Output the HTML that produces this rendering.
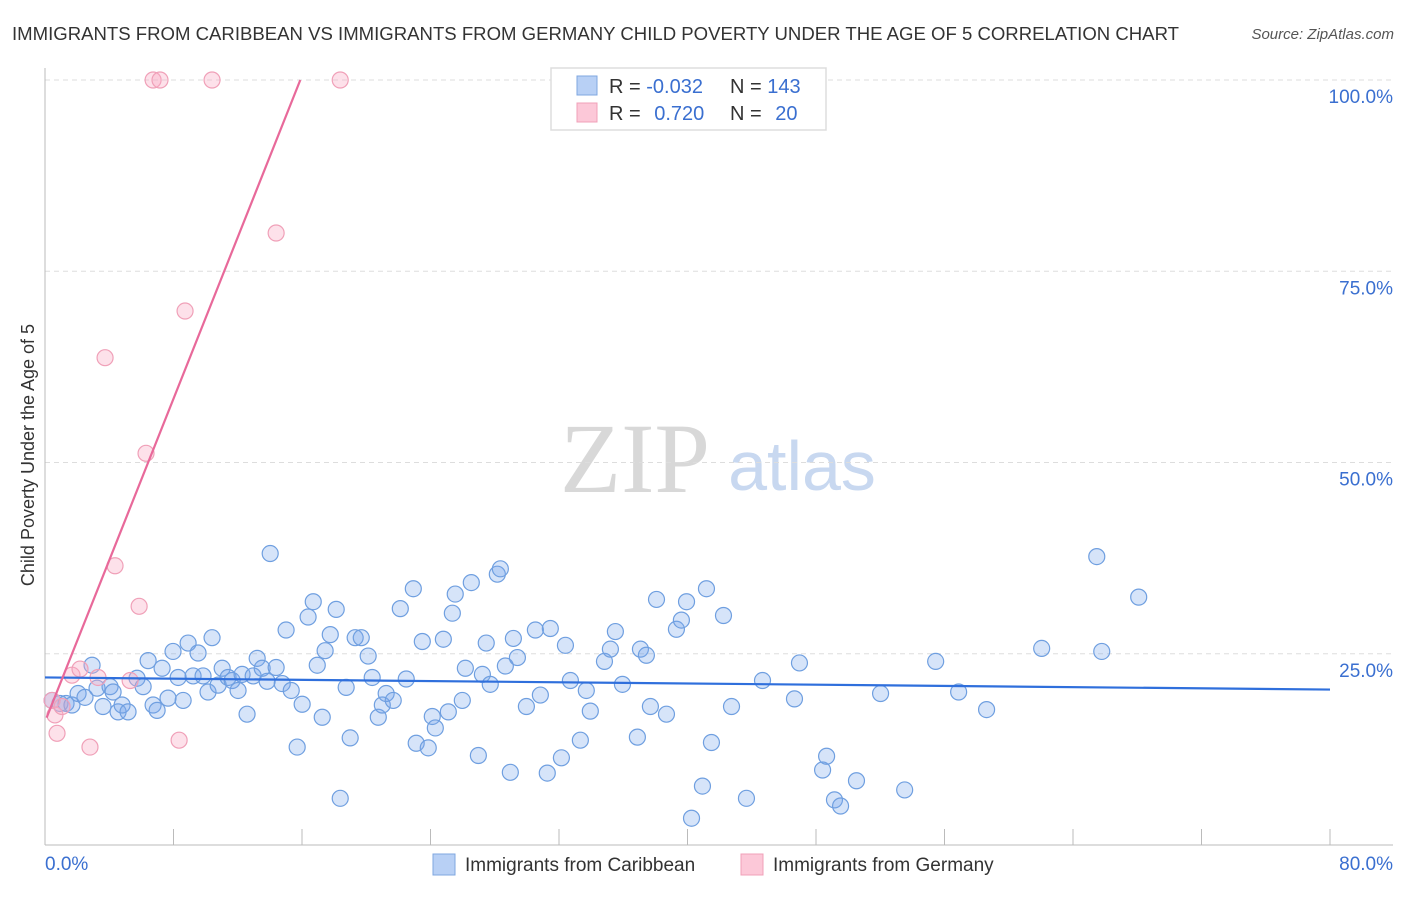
<!DOCTYPE html>
<html><head><meta charset="utf-8"><style>
body{margin:0;background:#fff;font-family:"Liberation Sans",sans-serif;}
svg text{font-family:"Liberation Sans",sans-serif;}
</style></head><body>
<svg id="chart" width="1406" height="892" xmlns="http://www.w3.org/2000/svg">
<text x="12" y="40" font-size="18" fill="#333" textLength="1167" lengthAdjust="spacingAndGlyphs">IMMIGRANTS FROM CARIBBEAN VS IMMIGRANTS FROM GERMANY CHILD POVERTY UNDER THE AGE OF 5 CORRELATION CHART</text>
<text x="1394" y="39" font-size="15" fill="#555" text-anchor="end" font-style="italic">Source: ZipAtlas.com</text>
<text x="0" y="0" font-size="18" fill="#333" text-anchor="middle" transform="translate(34,455) rotate(-90)">Child Poverty Under the Age of 5</text>
<g>
<text x="635" y="492" font-size="100" fill="#d8d8d8" text-anchor="middle" style="font-family:'Liberation Serif',serif">ZIP</text>
<text x="802" y="490" font-size="70" fill="#c8d8f0" text-anchor="middle">atlas</text>
</g>
<g id="grid"></g>
<g id="axes"></g>
<g id="marks"></g>
<g>
<rect x="551" y="68" width="275" height="62" fill="#fff" stroke="#ddd" stroke-width="1.5"/>
<rect x="577" y="76" width="20" height="19" fill="#b8d0f5" stroke="#7fa7e0"/>
<rect x="577" y="103" width="20" height="19" fill="#fcc8d8" stroke="#f0a0b8"/>
<text x="609" y="93" font-size="20" fill="#333">R = <tspan fill="#3a6fd0">-0.032</tspan></text>
<text x="730" y="93" font-size="20" fill="#333">N = <tspan fill="#3a6fd0">143</tspan></text>
<text x="609" y="120" font-size="20" fill="#333">R = <tspan fill="#3a6fd0" dx="8">0.720</tspan></text>
<text x="730" y="120" font-size="20" fill="#333">N = <tspan fill="#3a6fd0" dx="8">20</tspan></text>
</g>
<g>
<rect x="433" y="854" width="22" height="21" fill="#b8d0f5" stroke="#7fa7e0"/>
<text x="465" y="871" font-size="19" fill="#333">Immigrants from Caribbean</text>
<rect x="741" y="854" width="22" height="21" fill="#fcc8d8" stroke="#f0a0b8"/>
<text x="773" y="871" font-size="19" fill="#333">Immigrants from Germany</text>
</g>
</svg>
<script>
const blueX=[0.44,0.93,1.31,1.68,2.06,2.49,2.93,3.24,3.61,4.05,4.24,4.55,4.80,5.17,5.73,6.11,6.42,6.73,6.98,7.29,7.66,7.97,8.29,8.60,8.91,9.22,9.53,9.84,10.15,10.40,10.78,11.03,11.40,11.65,12.02,12.27,12.58,12.96,13.21,13.52,13.83,14.02,14.39,14.77,15.01,15.33,15.70,16.01,16.38,16.70,16.95,17.26,17.44,17.76,18.13,18.38,18.75,19.00,19.31,19.69,20.12,20.37,20.75,21.00,21.24,21.68,22.12,22.49,22.93,23.11,23.49,23.86,24.11,24.30,24.80,25.11,25.36,25.54,25.98,26.17,26.54,26.98,27.23,27.47,27.72,28.16,28.35,28.66,28.97,29.16,29.41,29.97,30.53,30.84,31.27,31.46,32.15,32.40,32.71,33.33,33.70,33.95,34.83,35.20,35.51,35.95,36.88,37.07,37.44,37.69,38.07,38.69,39.31,39.62,39.94,40.25,40.93,41.18,41.49,42.24,42.74,43.67,44.67,46.66,46.97,48.41,48.66,49.15,49.53,50.52,52.02,53.52,55.45,56.88,58.62,62.05,65.48,65.79,68.09];
const blueY=[18.9,18.5,18.5,18.3,19.8,19.3,23.5,20.5,18.1,20.7,20.0,17.4,18.3,17.4,21.8,20.7,24.1,18.3,17.6,23.1,19.2,25.3,21.9,18.9,26.4,22.1,25.1,22.1,20.0,27.1,20.9,23.1,21.9,21.5,20.2,22.3,17.1,22.1,24.4,23.1,21.4,38.1,23.2,21.1,28.1,20.2,12.8,18.4,29.8,31.8,23.5,16.7,25.4,27.5,30.8,6.1,20.6,14.0,27.1,27.1,24.7,21.9,16.7,18.3,19.8,18.9,30.9,21.7,33.5,13.3,26.6,12.7,16.8,15.3,26.9,17.4,30.3,32.8,18.9,23.1,34.3,11.7,22.3,26.4,21.0,35.4,36.1,23.4,9.5,27.0,24.5,18.1,28.1,19.6,9.4,28.3,11.4,26.1,21.5,13.7,20.2,17.5,24.0,25.6,27.9,21.0,14.1,25.6,24.8,18.1,32.1,17.1,28.2,29.4,31.8,3.5,7.7,33.5,13.4,30.0,18.1,6.1,21.5,19.1,23.8,9.8,11.6,5.9,5.1,8.4,19.8,7.2,24.0,20.0,17.7,25.7,37.7,25.3,32.4];
const pinkX=[0.44,0.62,0.75,1.06,1.68,2.18,2.80,3.30,3.74,4.36,5.30,5.86,6.29,6.73,7.16,8.35,8.72,10.40,14.39,18.38];
const pinkY=[18.9,17.0,14.6,18.1,22.2,23.0,12.8,21.9,63.7,36.5,21.5,31.2,51.2,100,100,13.7,69.8,100,80.0,100];
const yTicks=[25,50,75,100];
const yTickLabels=["25.0%","50.0%","75.0%","100.0%"];
const xTicks=[0,8,16,24,32,40,48,56,64,72,80];
const NS="http://www.w3.org/2000/svg";
const X0=45,X1=1330,Y0=845,Y100=80;
function sx(v){return X0+(X1-X0)*v/80;}
function sy(v){return Y0-(Y0-Y100)*v/100;}
function mk(tag,attrs,parent){const e=document.createElementNS(NS,tag);for(const k in attrs)e.setAttribute(k,attrs[k]);parent.appendChild(e);return e;}
const grid=document.getElementById('grid'),axes=document.getElementById('axes'),marks=document.getElementById('marks');
yTicks.forEach((t,i)=>{
 const l=mk('line',{x1:X0,x2:1393,y1:sy(t),y2:sy(t),stroke:'#ddd','stroke-dasharray':'5,4'},grid);
 
 
 const tx=mk('text',{x:1393,y:sy(t)+23,'font-size':19,fill:'#3a6fd0','text-anchor':'end'},axes);
 tx.textContent=yTickLabels[i];
 
 
});
let a=mk('line',{x1:X0,x2:X0,y1:68,y2:Y0,stroke:'#bbb'},axes);


a=mk('line',{x1:X0,x2:1393,y1:Y0,y2:Y0,stroke:'#bbb'},axes);


xTicks.forEach(t=>{
 const l=mk('line',{x1:sx(t),x2:sx(t),y1:829,y2:Y0,stroke:'#bbb'},axes);
 
 
});
let t0=mk('text',{x:45,y:870,'font-size':19,fill:'#3a6fd0'},axes);t0.textContent='0.0%';


let t1=mk('text',{x:1393,y:870,'font-size':19,fill:'#3a6fd0','text-anchor':'end'},axes);t1.textContent='80.0%';


function fit(xs,ys){const n=xs.length;let mx=0,my=0;for(let i=0;i<n;i++){mx+=xs[i];my+=ys[i];}mx/=n;my/=n;let sxy=0,sxx=0;for(let i=0;i<n;i++){sxy+=(xs[i]-mx)*(ys[i]-my);sxx+=(xs[i]-mx)**2;}const b=sxy/sxx;return [my-b*mx,b];}
blueX.forEach((x,i)=>{
 const c=mk('circle',{cx:sx(x),cy:sy(blueY[i]),r:8,fill:'rgba(120,165,235,0.3)',stroke:'#6f9fe0','stroke-width':1.2},marks);
 
 
});
pinkX.forEach((x,i)=>{
 const c=mk('circle',{cx:sx(x),cy:sy(pinkY[i]),r:8,fill:'rgba(248,170,195,0.35)',stroke:'#f0a0b8','stroke-width':1.2},marks);
 
 
});
const fb=fit(blueX,blueY);
let tl=mk('line',{x1:sx(0),y1:sy(fb[0]),x2:sx(80),y2:sy(fb[0]+fb[1]*80),stroke:'#2f6fdc','stroke-width':2.2},marks);


const fp=fit(pinkX,pinkY);
const xEnd=Math.min(80,(100-fp[0])/fp[1]);
const xStart=Math.max(0.1,(0-fp[0])/fp[1]);
tl=mk('line',{x1:sx(xStart),y1:sy(fp[0]+fp[1]*xStart),x2:sx(xEnd),y2:sy(fp[0]+fp[1]*xEnd),stroke:'#e8699a','stroke-width':2.2},marks);


</script>
</body></html>
